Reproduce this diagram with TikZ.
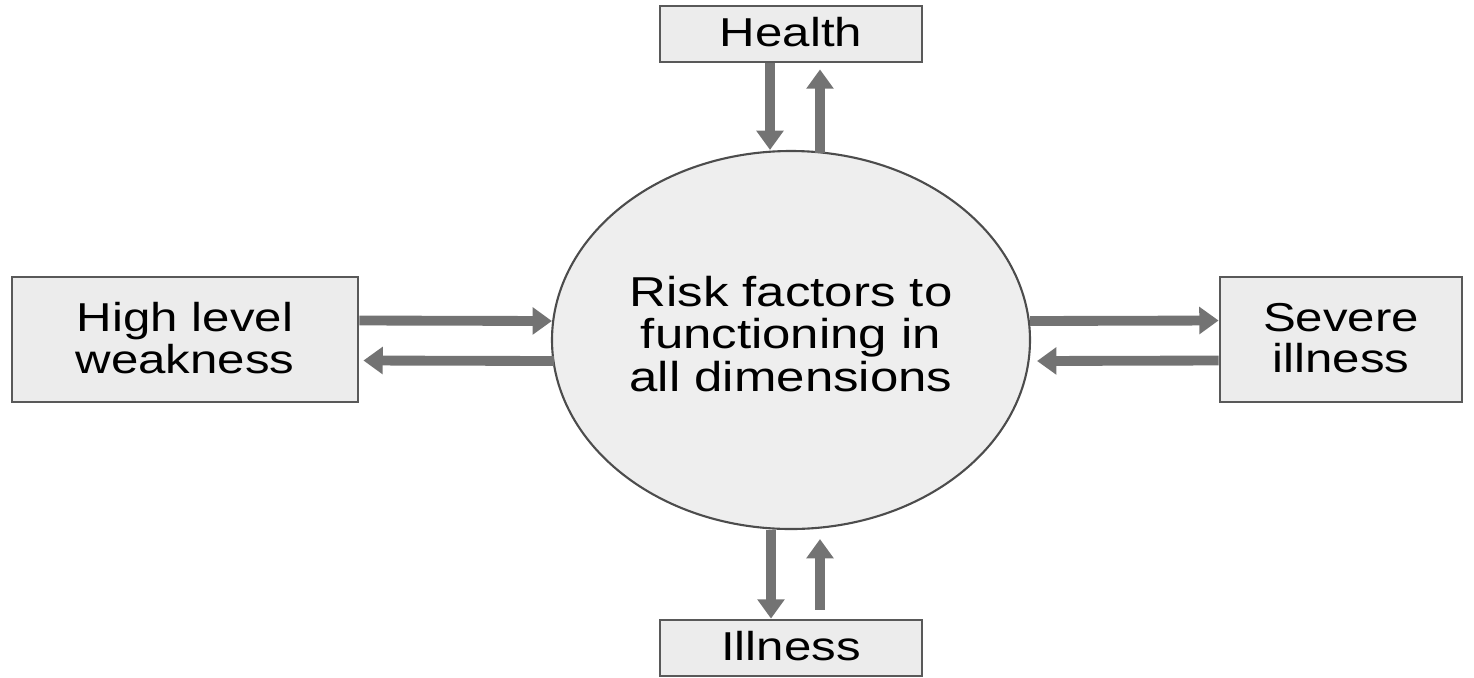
\documentclass[tikz,border=0pt]{standalone}
\usepackage{fontspec}
\usepackage{graphicx}
\setmainfont{Liberation Sans}
\usetikzlibrary{shapes.geometric,arrows.meta}
\newcommand{\squashed}[1]{\scalebox{1}[0.82]{\begin{tabular}{@{}c@{}}#1\end{tabular}}}
\newcommand{\squashedlow}[1]{\scalebox{1}[0.82]{\raisebox{0pt}[\height][1.2pt]{\begin{tabular}[b]{@{}c@{}}#1\end{tabular}}}}
\begin{document}
\begin{tikzpicture}
		[box/.style={rectangle,draw=black!65,line width=0.8pt,fill=gray!15,inner sep=0pt,
			font=\fontsize{14}{14}\selectfont},
		blob/.style={ellipse,draw=black!70,line width=0.6pt,fill=gray!13,inner sep=0pt,
			minimum width=4.78cm,minimum height=3.78cm,font=\fontsize{14.5}{14.5}\selectfont},
		flow/.style={draw=black!55,line width=2.8pt,-{Triangle[width=7.5pt,length=5.5pt]}}
		]
		\useasboundingbox (0,0) rectangle (14.74,6.77);
		\node[blob] (risk) at (7.91,3.37){\squashed{Risk factors to\\functioning in\\all dimensions}};
		\node[box,minimum width=2.62cm,minimum height=0.56cm] (health) at (7.91,6.43){\squashedlow{Health}};
		\node[box,minimum width=2.62cm,minimum height=0.56cm] (illness) at (7.91,0.29){\squashedlow{Illness}};
		\node[box,minimum width=3.46cm,minimum height=1.25cm] (weak) at (1.85,3.375){\squashedlow{High level\\weakness}};
		\node[box,minimum width=2.42cm,minimum height=1.25cm] (severe) at (13.41,3.375){\squashedlow{Severe\\illness}};

\draw[flow] ([xshift=-2.1mm]health.south) -- ([xshift=-2.1mm]risk.north);
\draw[flow] ([xshift=2.9mm,yshift=-0.3mm]risk.north) -- ([xshift=2.9mm,yshift=-0.6mm]health.south);
\draw[flow] ([xshift=-2mm]risk.south) -- ([xshift=-2mm]illness.north);
\draw[flow] ([xshift=2.9mm,yshift=0.9mm]illness.north) -- ([xshift=2.9mm,yshift=-0.9mm]risk.south);
\draw[flow] ([yshift=1.9mm]weak.east) -- ([xshift=0.1mm,yshift=1.9mm]risk.west);
\draw[flow] ([xshift=0.3mm,yshift=-2.1mm]risk.west) -- ([xshift=0.4mm,yshift=-2.1mm]weak.east);
\draw[flow] ([xshift=-0.1mm,yshift=1.9mm]risk.east) -- ([yshift=1.9mm]severe.west);
\draw[flow] ([yshift=-2.1mm]severe.west) -- ([xshift=0.6mm,yshift=-2.1mm]risk.east);
	\end{tikzpicture}
\end{document}
